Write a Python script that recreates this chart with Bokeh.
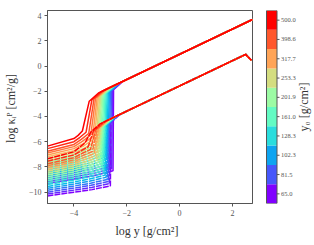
import numpy as np
from bokeh.plotting import figure
from bokeh.layouts import row
from bokeh.models import FixedTicker, Range1d, ColumnDataSource
from bokeh.embed import file_html
from bokeh.resources import INLINE

# ---------------- data ----------------
cb_labels = ["65.0", "81.5", "102.3", "128.3", "161.0",
             "201.9", "253.3", "317.7", "398.6", "500.0"]
x_ticks = [-4, -2, 0, 2]
y_ticks = [-10, -8, -6, -4, -2, 0, 2, 4]

# upper family (solid), index 0 = purple (small y0) ... 19 = red (large y0)
u_v5 = [-9.30, -9.15, -9.00, -8.85, -8.70, -8.55, -8.40, -8.25, -8.10, -7.95,
        -7.80, -7.65, -7.50, -7.35, -7.20, -7.05, -6.90, -6.75, -6.55, -6.35]
u_v4 = [-8.95, -8.79, -8.63, -8.47, -8.31, -8.15, -7.99, -7.83, -7.67, -7.51,
        -7.35, -7.19, -7.03, -6.87, -6.71, -6.55, -6.39, -6.22, -6.00, -5.75]
u_vm = [-8.70, -8.53, -8.36, -8.19, -8.02, -7.85, -7.68, -7.51, -7.34, -7.17,
        -7.00, -6.83, -6.66, -6.49, -6.32, -6.15, -5.98, -5.82, -5.65, -5.50]
u_xp = [-2.52, -2.57, -2.62, -2.67, -2.72, -2.77, -2.82, -2.87, -2.92, -2.97,
        -3.02, -3.07, -3.12, -3.17, -3.23, -3.29, -3.36, -3.44, -3.54, -3.68]
u_vp = [-8.30, -8.12, -7.94, -7.76, -7.58, -7.40, -7.22, -7.04, -6.86, -6.68,
        -6.50, -6.32, -6.14, -5.96, -5.78, -5.60, -5.45, -5.35, -5.25, -5.15]
u_xj = [-2.50, -2.54, -2.58, -2.62, -2.66, -2.70, -2.74, -2.78, -2.82, -2.86,
        -2.90, -2.94, -2.98, -3.02, -3.07, -3.12, -3.18, -3.24, -3.32, -3.42]
u_line_off = 0.93          # shared upper line: v = x + 0.93
u_end = (2.76, 3.69)

# lower family (dashed)
l_v5 = [-10.30, -10.15, -10.00, -9.85, -9.70, -9.55, -9.40, -9.25, -9.10, -8.95,
        -8.80, -8.65, -8.50, -8.35, -8.20, -8.05, -7.90, -7.75, -7.55, -7.35]
l_v4 = [-10.00, -9.84, -9.68, -9.52, -9.36, -9.20, -9.04, -8.88, -8.72, -8.56,
        -8.40, -8.24, -8.08, -7.92, -7.76, -7.60, -7.44, -7.27, -7.05, -6.80]
l_vm = [-9.80, -9.63, -9.46, -9.29, -9.12, -8.95, -8.78, -8.61, -8.44, -8.27,
        -8.10, -7.93, -7.76, -7.59, -7.42, -7.25, -7.08, -6.92, -6.72, -6.45]
l_xp = [-2.62, -2.66, -2.70, -2.74, -2.78, -2.82, -2.86, -2.90, -2.94, -2.98,
        -3.02, -3.06, -3.10, -3.14, -3.19, -3.24, -3.30, -3.37, -3.46, -3.58]
l_vp = [-9.50, -9.33, -9.16, -8.99, -8.82, -8.65, -8.48, -8.31, -8.14, -7.97,
        -7.80, -7.63, -7.46, -7.29, -7.12, -6.95, -6.78, -6.61, -6.40, -6.10]
l_xj = [-2.60, -2.63, -2.66, -2.69, -2.72, -2.75, -2.78, -2.81, -2.84, -2.87,
        -2.90, -2.93, -2.96, -2.99, -3.03, -3.07, -3.12, -3.18, -3.26, -3.36]
l_line_off = -1.58         # shared lower line: v = x - 1.58
l_peak = (2.50, 0.92)
l_end = (2.72, 0.45)

jump_gap = 0.30
merge_dx = 0.35


def rainbow(t):
    r = min(1.0, abs(2 * t - 0.5))
    g = np.sin(np.pi * t)
    b = max(0.0, np.cos(np.pi * t / 2))
    return "#%02x%02x%02x" % (int(round(r * 255)), int(round(g * 255)), int(round(b * 255)))


n = len(u_v5)
line_colors = [rainbow(i / (n - 1)) for i in range(n)]
cb_colors = [rainbow(k / (len(cb_labels) - 1)) for k in range(len(cb_labels))]

FONT = "Liberation Serif"
AX = "#555555"

# ---------------- main plot ----------------
p = figure(width=258, height=245, output_backend="svg", toolbar_location=None,
           x_range=Range1d(-5, 2.76), y_range=Range1d(-10.9, 4.4),
           min_border_left=43, min_border_right=6, min_border_top=10, min_border_bottom=42)
p.grid.visible = False
p.outline_line_color = AX

for ax in (p.xaxis[0], p.yaxis[0]):
    ax.axis_line_color = AX
    ax.major_tick_line_color = AX
    ax.major_tick_in = 0
    ax.major_tick_out = 3
    ax.minor_tick_line_color = None
    ax.major_label_text_font = FONT
    ax.major_label_text_font_size = "8px"
    ax.major_label_text_color = AX
    ax.axis_label_text_font = FONT
    ax.axis_label_text_font_size = "12px"
    ax.axis_label_text_font_style = "normal"
    ax.axis_label_text_color = "#333333"

p.xaxis.ticker = FixedTicker(ticks=x_ticks)
p.yaxis.ticker = FixedTicker(ticks=y_ticks)
p.xaxis.major_label_overrides = {t: (str(t).replace("-", "\u2212")) for t in x_ticks}
p.yaxis.major_label_overrides = {t: (str(t).replace("-", "\u2212")) for t in y_ticks}
p.xaxis.axis_label = "log  y  [g/cm\u00b2]"
p.yaxis.axis_label = "log  \u03ba\u1d62\u1d3e [cm\u00b2/g]"
p.xaxis.major_label_standoff = 3
p.yaxis.major_label_standoff = 3
p.xaxis.axis_label_standoff = 5
p.yaxis.axis_label_standoff = 8

for i in range(n):
    xj = u_xj[i]
    xm = (-4 + u_xp[i]) / 2
    xs = [-5, -4, xm, u_xp[i], xj, xj + merge_dx, u_end[0]]
    vs = [u_v5[i], u_v4[i], u_vm[i], u_vp[i], xj + u_line_off - jump_gap,
          xj + merge_dx + u_line_off, u_end[1]]
    p.line(xs, vs, line_color=line_colors[i], line_width=1.5)

for i in range(n):
    xj = l_xj[i]
    xm = (-4 + l_xp[i]) / 2
    xs = [-5, -4, xm, l_xp[i], xj, xj + merge_dx, l_peak[0], l_end[0]]
    vs = [l_v5[i], l_v4[i], l_vm[i], l_vp[i], xj + l_line_off - jump_gap,
          xj + merge_dx + l_line_off, l_peak[1], l_end[1]]
    p.line(xs, vs, line_color=line_colors[i], line_width=1.5, line_dash="6 1")

# ---------------- colour bar (own small figure, frame in pixel units) ----------------
nb = len(cb_labels)
cbf = figure(width=56, height=245, output_backend="svg", toolbar_location=None,
             x_range=Range1d(0, 56), y_range=Range1d(0, nb),
             x_axis_location=None, y_axis_location=None,
             min_border_left=0, min_border_right=0, min_border_top=10, min_border_bottom=41)
cbf.grid.visible = False
cbf.outline_line_color = None

bins = list(range(nb))
src = ColumnDataSource(dict(bottom=bins, top=[b + 1 for b in bins], color=cb_colors,
                            mid=[b + 0.5 for b in bins], label=cb_labels))
cbf.quad(left=8, right=18.5, bottom="bottom", top="top", fill_color="color",
         line_color=None, source=src)
cbf.quad(left=8, right=18.5, bottom=0, top=nb, fill_color=None, line_color=AX, line_width=1)
cbf.segment(x0=18.5, x1=21, y0="mid", y1="mid", line_color=AX, line_width=1, source=src)
cbf.text(x=22.5, y="mid", text="label", text_font=FONT, text_font_size="6.5px",
         text_color=AX, text_baseline="middle", text_align="left", source=src)
cbf.text(x=[45], y=[nb / 2], text=["y\u2080 [g/cm\u00b2]"], angle=np.pi / 2,
         text_font=FONT, text_font_size="12px", text_color="#333333",
         text_baseline="middle", text_align="center")

layout = row(p, cbf)
open("out.html", "w").write(file_html(layout, INLINE))
